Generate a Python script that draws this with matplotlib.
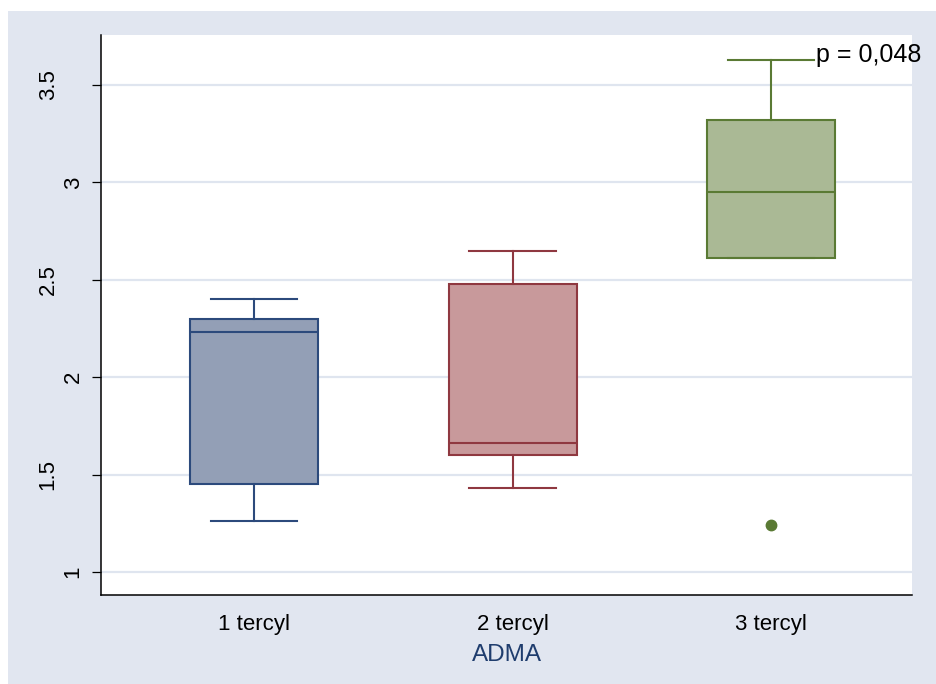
import matplotlib.pyplot as plt
from matplotlib.patches import Rectangle
from matplotlib.transforms import ScaledTranslation, blended_transform_factory

plt.rcParams['font.family'] = ['Liberation Sans', 'DejaVu Sans']

# ADMA tertiles - box plot summary values
groups = ['1 tercyl', '2 tercyl', '3 tercyl']
medians = [2.23, 1.66, 2.95]
q1s = [1.45, 1.60, 2.61]
q3s = [2.30, 2.48, 3.32]
whis_lo = [1.26, 1.43, 2.61]
whis_hi = [2.40, 2.65, 3.63]
outliers = [[], [], [1.24]]

fills = ['#939FB6', '#C8999B', '#AAB995']
edges = ['#2C4A7C', '#8F3840', '#5A7A34']

yticks = [1, 1.5, 2, 2.5, 3, 3.5]
yticklabels = ['1', '1.5', '2', '2.5', '3', '3.5']
p_text = 'p = 0,048'

bg = '#E1E6F0'
grid_col = '#DFE5EF'

fig = plt.figure(figsize=(9.36, 6.84), dpi=100)
fig.patch.set_facecolor('white')
fig.add_artist(Rectangle((8 / 936, 0), 1 - 8 / 936, 673 / 684,
                         transform=fig.transFigure, facecolor=bg,
                         edgecolor='none', zorder=-10))

ax = fig.add_axes([101 / 936, 1 - 595 / 684, 811 / 936, 560 / 684])
ax.set_facecolor('white')

stats = []
for i, g in enumerate(groups):
    stats.append(dict(label=g, med=medians[i], q1=q1s[i], q3=q3s[i],
                      whislo=whis_lo[i], whishi=whis_hi[i], fliers=outliers[i]))

lw = 1.5
positions = [1, 2, 3]
for i, s in enumerate(stats):
    ax.bxp([s], positions=[positions[i]], widths=0.495, patch_artist=True,
           showfliers=True,
           boxprops=dict(facecolor=fills[i], edgecolor=edges[i], linewidth=lw),
           medianprops=dict(color=edges[i], linewidth=lw),
           whiskerprops=dict(color=edges[i], linewidth=lw),
           capprops=dict(color=edges[i], linewidth=lw),
           capwidths=0.335,
           flierprops=dict(marker='o', markersize=7.5, markerfacecolor=edges[i],
                           markeredgecolor=edges[i]),
           zorder=3)

ax.set_xlim(0.408, 3.545)
ax.set_ylim(0.882, 3.757)

ax.set_yticks(yticks)
ax.yaxis.grid(True, color=grid_col, linewidth=1.6, zorder=0)
ax.set_axisbelow(True)
ax.tick_params(axis='y', direction='out', length=6.5, width=0.9,
               color='black', labelleft=False)

# rotated y labels, Stata-style placement
for v, s in zip(yticks, yticklabels):
    off = 20 if len(s) == 1 else 38
    tr = blended_transform_factory(ax.transAxes, ax.transData) + \
        ScaledTranslation(-off / 72, 0, fig.dpi_scale_trans)
    ax.text(0, v, s, transform=tr, rotation=90, ha='center', va='center',
            fontsize=16, color='black')

ax.set_xticks(positions)
ax.set_xticklabels(groups, fontsize=16)
ax.tick_params(axis='x', length=0, pad=14)
ax.set_xlabel('ADMA', fontsize=17.5, color='#1F3D6E', labelpad=6)

for side in ['top', 'right']:
    ax.spines[side].set_visible(False)
for side in ['left', 'bottom']:
    ax.spines[side].set_linewidth(1.1)
    ax.spines[side].set_color('black')

ax.text(3.58, 3.654, p_text, ha='right', va='center', fontsize=18,
        color='black', clip_on=False, zorder=5)

fig.savefig('out.png', dpi=100)
